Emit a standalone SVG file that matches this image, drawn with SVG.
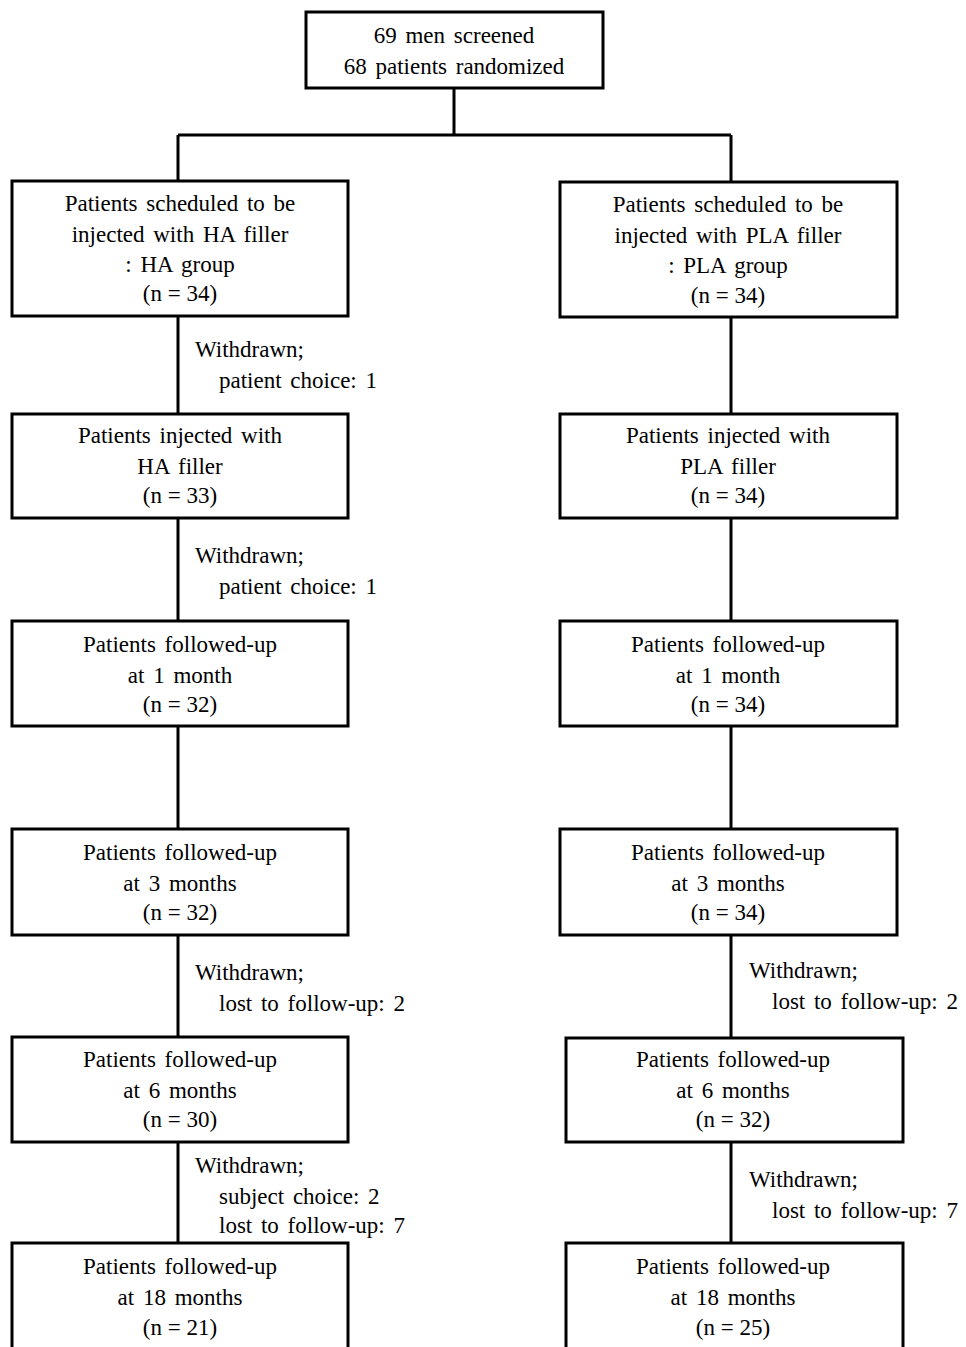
<svg xmlns="http://www.w3.org/2000/svg" width="966" height="1347" viewBox="0 0 966 1347">
<style>
.box{fill:#fff;stroke:#000;stroke-width:3}
.ln{stroke:#000;stroke-width:3;fill:none}
text{font-family:"Liberation Serif","Times New Roman",serif;font-size:23px;fill:#000;word-spacing:3px}
.c{text-anchor:middle}
.n{word-spacing:0}
</style>
<rect width="966" height="1347" fill="#fff"/>
<g id="connectors">
<path class="ln" d="M454 88V135M178 135H731M178 135V181M731 135V182"/>
<path class="ln" d="M178 316V414M178 518V621M178 726V829M178 935V1037M178 1142V1243"/>
<path class="ln" d="M731 317V414M731 518V621M731 726V829M731 935V1038M731 1142V1243"/>
</g>
<g id="top"><rect class="box" x="306" y="12" width="297" height="76"/>
<text class="c" x="454" y="43">69 men screened</text><text class="c" x="454" y="74">68 patients randomized</text></g>
<g id="L1"><rect class="box" x="12" y="181" width="336" height="135"/>
<text class="c" x="180" y="211">Patients scheduled to be</text><text class="c" x="180" y="242">injected with HA filler</text><text class="c" x="180" y="272">: HA group</text><text class="c n" x="180" y="301">(n = 34)</text></g>
<g id="R1"><rect class="box" x="560" y="182" width="337" height="135"/>
<text class="c" x="728" y="212">Patients scheduled to be</text><text class="c" x="728" y="243">injected with PLA filler</text><text class="c" x="728" y="273">: PLA group</text><text class="c n" x="728" y="303">(n = 34)</text></g>
<g id="L2"><rect class="box" x="12" y="414" width="336" height="104"/>
<text class="c" x="180" y="443">Patients injected with</text><text class="c" x="180" y="474">HA filler</text><text class="c n" x="180" y="503">(n = 33)</text></g>
<g id="R2"><rect class="box" x="560" y="414" width="337" height="104"/>
<text class="c" x="728" y="443">Patients injected with</text><text class="c" x="728" y="474">PLA filler</text><text class="c n" x="728" y="503">(n = 34)</text></g>
<g id="L3"><rect class="box" x="12" y="621" width="336" height="105"/>
<text class="c" x="180" y="652">Patients followed-up</text><text class="c" x="180" y="683">at 1 month</text><text class="c n" x="180" y="712">(n = 32)</text></g>
<g id="R3"><rect class="box" x="560" y="621" width="337" height="105"/>
<text class="c" x="728" y="652">Patients followed-up</text><text class="c" x="728" y="683">at 1 month</text><text class="c n" x="728" y="712">(n = 34)</text></g>
<g id="L4"><rect class="box" x="12" y="829" width="336" height="106"/>
<text class="c" x="180" y="860">Patients followed-up</text><text class="c" x="180" y="891">at 3 months</text><text class="c n" x="180" y="920">(n = 32)</text></g>
<g id="R4"><rect class="box" x="560" y="829" width="337" height="106"/>
<text class="c" x="728" y="860">Patients followed-up</text><text class="c" x="728" y="891">at 3 months</text><text class="c n" x="728" y="920">(n = 34)</text></g>
<g id="L5"><rect class="box" x="12" y="1037" width="336" height="105"/>
<text class="c" x="180" y="1067">Patients followed-up</text><text class="c" x="180" y="1098">at 6 months</text><text class="c n" x="180" y="1127">(n = 30)</text></g>
<g id="R5"><rect class="box" x="566" y="1038" width="337" height="104"/>
<text class="c" x="733" y="1067">Patients followed-up</text><text class="c" x="733" y="1098">at 6 months</text><text class="c n" x="733" y="1127">(n = 32)</text></g>
<g id="L6"><rect class="box" x="12" y="1243" width="336" height="120"/>
<text class="c" x="180" y="1274">Patients followed-up</text><text class="c" x="180" y="1305">at 18 months</text><text class="c n" x="180" y="1335">(n = 21)</text></g>
<g id="R6"><rect class="box" x="566" y="1243" width="337" height="120"/>
<text class="c" x="733" y="1274">Patients followed-up</text><text class="c" x="733" y="1305">at 18 months</text><text class="c n" x="733" y="1335">(n = 25)</text></g>
<g id="labels">
<text x="195" y="357">Withdrawn;</text><text x="219" y="388">patient choice: 1</text>
<text x="195" y="563">Withdrawn;</text><text x="219" y="594">patient choice: 1</text>
<text x="195" y="980">Withdrawn;</text><text x="219" y="1011">lost to follow-up: 2</text>
<text x="195" y="1173">Withdrawn;</text><text x="219" y="1204">subject choice: 2</text><text x="219" y="1233">lost to follow-up: 7</text>
<text x="749" y="978">Withdrawn;</text><text x="772" y="1009">lost to follow-up: 2</text>
<text x="749" y="1187">Withdrawn;</text><text x="772" y="1218">lost to follow-up: 7</text>
</g>
</svg>
